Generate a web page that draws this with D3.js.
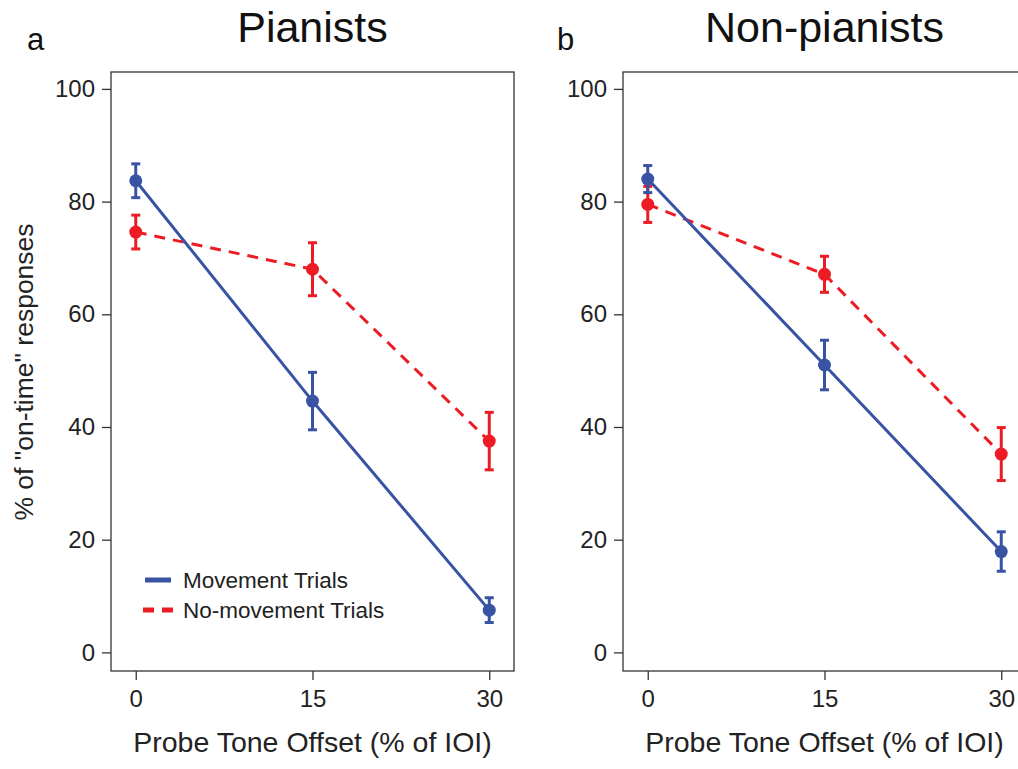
<!DOCTYPE html>
<html>
<head>
<meta charset="utf-8">
<script src="https://cdn.jsdelivr.net/npm/d3@7"></script>
<style>
  body { margin: 0; background: #fff; }
  svg { display: block; font-family: "Liberation Sans", Arial, Helvetica, sans-serif; }
</style>
</head>
<body>
<svg id="chart"></svg>
<script>
const WIDTH = 1018;
const HEIGHT = 769;

const BLUE = "#3953a4";
const RED = "#ed1c24";

// probe tone offsets (% of IOI)
const offsets = [0, 15, 30];
const yTicks = [0, 20, 40, 60, 80, 100];

// Pianists
const pianistMove = [83.7, 44.6, 7.5];
const pianistMoveErr = [3.0, 5.1, 2.2];
const pianistNoMove = [74.6, 68.0, 37.5];
const pianistNoMoveErr = [3.0, 4.7, 5.1];

// Non-pianists
const nonMove = [84.0, 51.0, 17.9];
const nonMoveErr = [2.4, 4.4, 3.5];
const nonNoMove = [79.5, 67.1, 35.2];
const nonNoMoveErr = [3.2, 3.2, 4.7];

const panels = [
    {title: "Pianists", letter: "a", dx: 0, letterX: 27, legend: true,
     series: [
        {vals: pianistNoMove, err: pianistNoMoveErr, color: RED, dash: "11,8"},
        {vals: pianistMove, err: pianistMoveErr, color: BLUE, dash: null}
     ]},
    {title: "Non-pianists", letter: "b", dx: 512, letterX: 557, legend: false,
     series: [
        {vals: nonNoMove, err: nonNoMoveErr, color: RED, dash: "11,8"},
        {vals: nonMove, err: nonMoveErr, color: BLUE, dash: null}
     ]}
];

function drawPanel(svg, p){
    var g = svg.append("g").attr("transform", "translate(" + p.dx + ",0)");

    var x = d3.scaleLinear().domain([-2.1, 32.1]).range([111, 514]);
    var y = d3.scaleLinear().domain([-3.3, 103]).range([671, 72]);

    // box
    g.append("rect")
        .attr("x", x.range()[0]).attr("y", y.range()[1])
        .attr("width", x.range()[1] - x.range()[0])
        .attr("height", y.range()[0] - y.range()[1])
        .attr("fill", "none").attr("stroke", "#333").attr("stroke-width", 1.3);

    var xAxis = g.append("g")
        .attr("transform", "translate(0," + y.range()[0] + ")")
        .call(d3.axisBottom(x).tickValues(offsets).tickSize(9).tickPadding(10));
    var yAxis = g.append("g")
        .attr("transform", "translate(" + x.range()[0] + ",0)")
        .call(d3.axisLeft(y).tickValues(yTicks).tickSize(9).tickPadding(7));

    [xAxis, yAxis].forEach(a=>{
        a.select(".domain").remove();
        a.selectAll("line").attr("stroke", "#333").attr("stroke-width", 1.3);
        a.selectAll("text").attr("font-size", 24).attr("fill", "#222")
            .attr("font-family", "Liberation Sans, Arial, sans-serif");
    });

    var line = d3.line().x((d,i)=>x(offsets[i])).y(d=>y(d));

    p.series.forEach(s=>{
        g.append("path")
            .datum(s.vals)
            .attr("d", line)
            .attr("fill", "none")
            .attr("stroke", s.color)
            .attr("stroke-width", 3)
            .attr("stroke-dasharray", s.dash);

        var bars = g.append("g").selectAll("g")
            .data(s.vals)
            .enter().append("g")
            .attr("stroke", s.color)
            .attr("stroke-width", 3);
        bars.append("line")
            .attr("x1", (d,i)=>x(offsets[i])).attr("x2", (d,i)=>x(offsets[i]))
            .attr("y1", (d,i)=>y(d + s.err[i])).attr("y2", (d,i)=>y(d - s.err[i]));
        bars.append("line")
            .attr("x1", (d,i)=>x(offsets[i]) - 4.5).attr("x2", (d,i)=>x(offsets[i]) + 4.5)
            .attr("y1", (d,i)=>y(d + s.err[i])).attr("y2", (d,i)=>y(d + s.err[i]));
        bars.append("line")
            .attr("x1", (d,i)=>x(offsets[i]) - 4.5).attr("x2", (d,i)=>x(offsets[i]) + 4.5)
            .attr("y1", (d,i)=>y(d - s.err[i])).attr("y2", (d,i)=>y(d - s.err[i]));

        g.append("g").selectAll("circle")
            .data(s.vals)
            .enter().append("circle")
            .attr("cx", (d,i)=>x(offsets[i]))
            .attr("cy", d=>y(d))
            .attr("r", 6.5)
            .attr("fill", s.color);
    });

    // titles
    g.append("text")
        .attr("x", (x(0) + x(30)) / 2).attr("y", 42)
        .attr("text-anchor", "middle").attr("font-size", 43).attr("fill", "#111")
        .text(p.title);
    svg.append("text")
        .attr("x", p.letterX).attr("y", 50)
        .attr("font-size", 31).attr("fill", "#111")
        .text(p.letter);
    g.append("text")
        .attr("x", (x(0) + x(30)) / 2).attr("y", 752)
        .attr("text-anchor", "middle").attr("font-size", 28.5).attr("fill", "#222")
        .text("Probe Tone Offset (% of IOI)");

    if (p.legend){
        var leg = g.append("g");
        leg.append("line")
            .attr("x1", 145).attr("x2", 171).attr("y1", 580).attr("y2", 580)
            .attr("stroke", BLUE).attr("stroke-width", 5);
        leg.append("line")
            .attr("x1", 143).attr("x2", 173).attr("y1", 610).attr("y2", 610)
            .attr("stroke", RED).attr("stroke-width", 5).attr("stroke-dasharray", "11,8");
        leg.append("text").attr("x", 183).attr("y", 588)
            .attr("font-size", 22.5).attr("fill", "#222").text("Movement Trials");
        leg.append("text").attr("x", 183).attr("y", 618)
            .attr("font-size", 22.5).attr("fill", "#222").text("No-movement Trials");
    }
}

function main(){
    var svg = d3.select("#chart")
        .attr("width", WIDTH)
        .attr("height", HEIGHT);

    panels.forEach(p=>drawPanel(svg, p));

    svg.append("text")
        .attr("transform", "translate(33,372) rotate(-90)")
        .attr("text-anchor", "middle")
        .attr("font-size", 26.5).attr("fill", "#222")
        .text('% of "on-time" responses');
}

main();
</script>
</body>
</html>
